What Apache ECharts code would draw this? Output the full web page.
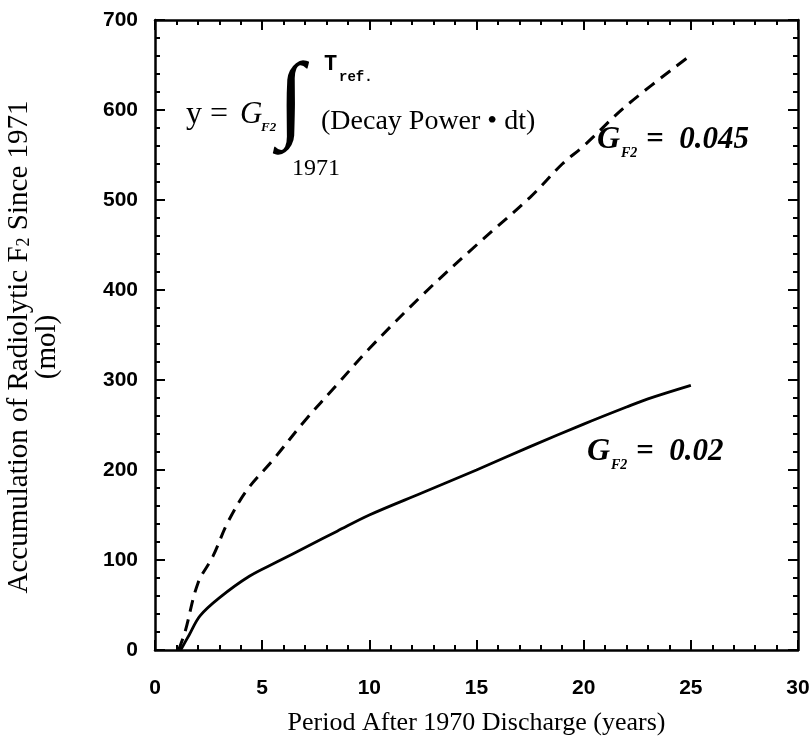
<!DOCTYPE html>
<html>
<head>
<meta charset="utf-8">
<script src="https://cdn.jsdelivr.net/npm/echarts@6/dist/echarts.min.js"></script>
<style>
html,body{margin:0;padding:0;background:#fff;}
#chart{width:810px;height:744px;}
</style>
</head>
<body>
<div id="chart"></div>
<script>
// values
var lowYears  = [1.2, 1.6, 2.1, 3.0, 4.4, 5.7, 7.1, 8.5, 10, 12.5, 15, 17.5, 20, 22, 23, 25];
var lowMol    = [0, 17, 38, 58, 82, 98, 115, 132, 150, 175, 200, 226, 251, 270, 279, 294];
var highYears = [1.1, 1.4, 2.0, 2.7, 3.4, 4.3, 5.5, 7, 8.5, 10, 12.5, 15, 17.5, 19, 20, 22, 25];
var highMol   = [0, 20, 74, 104, 142, 178, 211, 255, 295, 335, 395, 450, 503, 540, 560, 605, 661];
var xTicks = [0, 5, 10, 15, 20, 25, 30];
var yTicks = [0, 100, 200, 300, 400, 500, 600, 700];

function pairs(xs, ys){
	var out = [];
	for (var i = 0; i < xs.length; i++) out.push([xs[i], ys[i]]);
	return out;
}

var chart = echarts.init(document.getElementById('chart'));
var ink = '#000';
var serif = '"Liberation Serif", "DejaVu Serif", serif';
var sans = '"Liberation Sans", Arial, sans-serif';

function axisBase(show){
	return {
		type: 'value',
		axisLine: {show: true, onZero: false, lineStyle: {color: ink, width: 2.5}},
		axisTick: {show: true, inside: true, length: 10, lineStyle: {color: ink, width: 2}},
		minorTick: {show: true, splitNumber: 5, length: 5, lineStyle: {color: ink, width: 2}},
		splitLine: {show: false},
		axisLabel: {show: show, color: ink, fontFamily: sans, fontWeight: 'bold', fontSize: 21}
	};
}

var xb = axisBase(true);
xb.min = xTicks[0]; xb.max = xTicks[xTicks.length - 1]; xb.interval = 5;
xb.position = 'bottom';
xb.axisLabel.margin = 28;
xb.name = 'Period After 1970 Discharge (years)';
xb.nameLocation = 'middle';
xb.nameGap = 60;
xb.nameTextStyle = {color: ink, fontFamily: serif, fontSize: 26};

var xt = axisBase(false);
xt.min = xb.min; xt.max = xb.max; xt.interval = 5; xt.position = 'top';

var yl = axisBase(true);
yl.min = yTicks[0]; yl.max = yTicks[yTicks.length - 1]; yl.interval = 100;
yl.position = 'left';
yl.axisLabel.margin = 17;
yl.name = 'Accumulation of Radiolytic F{s|2} Since 1971\n(mol)';
yl.nameLocation = 'middle';
yl.nameGap = 94;
yl.nameRotate = 90;
yl.nameTextStyle = {color: ink, fontFamily: serif, fontSize: 29, lineHeight: 28, padding: [0, 24, 0, 0],
	rich: {s: {fontFamily: serif, fontSize: 18, verticalAlign: 'bottom', lineHeight: 22, color: ink}}};

var yr = axisBase(false);
yr.min = yl.min; yr.max = yl.max; yr.interval = 100; yr.position = 'right';

function gtext(x, y, text, style){
	var s = {text: text, fill: ink, fontFamily: serif, fontSize: 24, textVerticalAlign: 'middle'};
	for (var k in style) s[k] = style[k];
	return {type: 'text', x: x, y: y, style: s, z: 10};
}

var option = {
	animation: false,
	backgroundColor: '#fff',
	grid: {left: 155, right: 12, top: 20, bottom: 94, containLabel: false, outerBoundsMode: 'none'},
	xAxis: [xb, xt],
	yAxis: [yl, yr],
	series: [
		{
			type: 'line', name: 'GF2 = 0.02',
			data: pairs(lowYears, lowMol),
			smooth: 0.35, showSymbol: false,
			lineStyle: {color: ink, width: 2.8}
		},
		{
			type: 'line', name: 'GF2 = 0.045',
			data: pairs(highYears, highMol),
			smooth: 0.35, showSymbol: false,
			lineStyle: {color: ink, width: 3, type: [12, 8]}
		}
	],
	graphic: [
		// formula
		gtext(186, 115, 'y =', {fontSize: 32}),
		gtext(240, 115, 'G', {fontSize: 31, fontStyle: 'italic'}),
		gtext(261, 128, 'F2', {fontSize: 13, fontStyle: 'italic', fontWeight: 'bold'}),
		gtext(278, 104, '\u222B', {fontSize: 96}),
		gtext(324, 64, 'T', {fontSize: 22, fontWeight: 'bold', fontFamily: '"Liberation Mono", monospace'}),
		gtext(339, 77, 'ref.', {fontSize: 14, fontWeight: 'bold', fontFamily: '"Liberation Mono", monospace'}),
		gtext(321, 122, '(Decay Power \u2022 dt)', {fontSize: 28}),
		gtext(292, 169, '1971', {fontSize: 24}),
		// curve labels
		gtext(597, 140, 'G', {fontSize: 32, fontStyle: 'italic', fontWeight: 'bold'}),
		gtext(621, 153, 'F2', {fontSize: 14, fontStyle: 'italic', fontWeight: 'bold'}),
		gtext(646, 140, '=  0.045', {fontSize: 31, fontStyle: 'italic', fontWeight: 'bold'}),
		gtext(587, 452, 'G', {fontSize: 32, fontStyle: 'italic', fontWeight: 'bold'}),
		gtext(611, 465, 'F2', {fontSize: 14, fontStyle: 'italic', fontWeight: 'bold'}),
		gtext(636, 452, '=  0.02', {fontSize: 31, fontStyle: 'italic', fontWeight: 'bold'})
	]
};
chart.setOption(option);
</script>
</body>
</html>
